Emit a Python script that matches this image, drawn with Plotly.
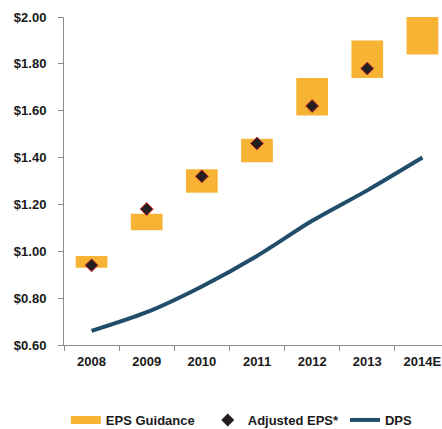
import plotly.graph_objects as go

years = ["2008", "2009", "2010", "2011", "2012", "2013", "2014E"]
guidance_low = [0.93, 1.09, 1.25, 1.38, 1.58, 1.74, 1.84]
guidance_high = [0.98, 1.16, 1.35, 1.48, 1.74, 1.90, 2.00]
adj_eps_years = ["2008", "2009", "2010", "2011", "2012", "2013"]
adj_eps = [0.94, 1.18, 1.32, 1.46, 1.62, 1.78]
dps = [0.66, 0.74, 0.85, 0.98, 1.13, 1.26, 1.40]
y_ticks = [0.60, 0.80, 1.00, 1.20, 1.40, 1.60, 1.80, 2.00]
y_tick_text = ["$%.2f" % v for v in y_ticks]

ORANGE = "#F7B334"
NAVY = "#1F4D6A"
DIAMOND = "#231F20"
TEXT = "#1A1A1A"
AXIS = "#8C8C8C"
FONT = "Liberation Sans"

fig = go.Figure()

fig.add_trace(go.Bar(
    x=years,
    y=[h - l for h, l in zip(guidance_high, guidance_low)],
    base=guidance_low,
    width=0.575,
    marker=dict(color=ORANGE, line=dict(width=0)),
    showlegend=False,
    hoverinfo="skip",
))

fig.add_trace(go.Scatter(
    x=years, y=dps, mode="lines",
    line=dict(color=NAVY, width=4, shape="spline", smoothing=0.8),
    showlegend=False,
))

fig.add_trace(go.Scatter(
    x=adj_eps_years, y=adj_eps, mode="markers",
    marker=dict(symbol="diamond", size=10, color=DIAMOND,
                line=dict(color="#E0302E", width=1)),
    showlegend=False,
))

# legend entries
fig.add_trace(go.Scatter(
    x=[None], y=[None], mode="lines", name="EPS Guidance",
    line=dict(color=ORANGE, width=8), legend="legend",
))
fig.add_trace(go.Scatter(
    x=[None], y=[None], mode="markers", name="Adjusted EPS*",
    marker=dict(symbol="diamond", size=10, color=DIAMOND), legend="legend2",
))
fig.add_trace(go.Scatter(
    x=[None], y=[None], mode="lines", name="DPS",
    line=dict(color=NAVY, width=4), legend="legend3",
))

legend_common = dict(
    orientation="h", yanchor="middle", xanchor="left",
    xref="container", yref="container", y=0.021,
    font=dict(family=FONT, size=13, color=TEXT, weight="bold"),
    bgcolor="rgba(0,0,0,0)", borderwidth=0,
)

fig.update_layout(
    width=442, height=429,
    margin=dict(l=64, r=0, t=17, b=84, autoexpand=False),
    paper_bgcolor="white", plot_bgcolor="white",
    font=dict(family=FONT, size=13, color=TEXT),
    legend=dict(x=0.149, **legend_common),
    legend2=dict(x=0.47, **legend_common),
    legend3=dict(x=0.7805, **legend_common),
    xaxis=dict(
        type="category", range=[-0.5, 6.355], automargin=False,
        showline=True, linecolor=AXIS, linewidth=1,
        ticks="outside", ticklen=5, tickcolor=AXIS, tickson="boundaries",
        showgrid=False, zeroline=False,
        tickfont=dict(family=FONT, size=13, color=TEXT, weight="bold"),
        ticklabelstandoff=4,
    ),
    yaxis=dict(
        range=[0.6, 2.0], tickvals=y_ticks, ticktext=y_tick_text,
        automargin=False,
        showline=True, linecolor=AXIS, linewidth=1,
        ticks="outside", ticklen=5, tickcolor=AXIS,
        showgrid=False, zeroline=False,
        tickfont=dict(family=FONT, size=13, color=TEXT, weight="bold"),
        ticklabelstandoff=9,
    ),
)

fig.write_html(
    "out.html",
    config={"displayModeBar": False},
    post_script="document.body.style.margin='0';document.body.style.overflow='hidden';",
)
